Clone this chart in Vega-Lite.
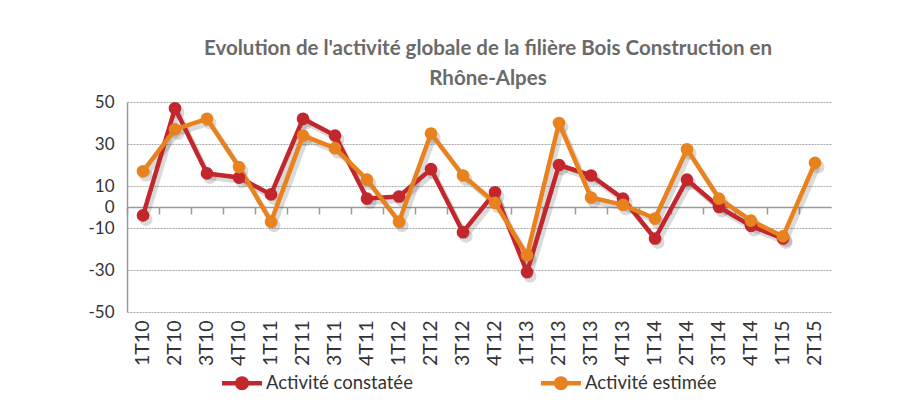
{
  "$schema": "https://vega.github.io/schema/vega-lite/v6.json",
  "width": 704,
  "height": 210,
  "autosize": {"type": "none"},
  "padding": {"left": 127, "top": 102, "right": 78, "bottom": 89},
  "background": "white",
  "title": {
    "text": ["Evolution de l'activité globale de la filière Bois Construction en", "Rhône-Alpes"],
    "font": "Lato",
    "fontSize": 20.5,
    "fontWeight": "bold",
    "color": "#6a6a6a",
    "lineHeight": 30,
    "offset": 4,
    "dx": 9
  },
  "config": {
    "view": {"stroke": null},
    "font": "Lato"
  },
  "data": {
    "values": [
      {"q": "1T10", "s": "Activité constatée", "v": -4},
      {"q": "2T10", "s": "Activité constatée", "v": 47},
      {"q": "3T10", "s": "Activité constatée", "v": 16},
      {"q": "4T10", "s": "Activité constatée", "v": 14},
      {"q": "1T11", "s": "Activité constatée", "v": 6},
      {"q": "2T11", "s": "Activité constatée", "v": 42},
      {"q": "3T11", "s": "Activité constatée", "v": 34},
      {"q": "4T11", "s": "Activité constatée", "v": 4},
      {"q": "1T12", "s": "Activité constatée", "v": 5},
      {"q": "2T12", "s": "Activité constatée", "v": 18},
      {"q": "3T12", "s": "Activité constatée", "v": -12},
      {"q": "4T12", "s": "Activité constatée", "v": 7},
      {"q": "1T13", "s": "Activité constatée", "v": -31},
      {"q": "2T13", "s": "Activité constatée", "v": 20},
      {"q": "3T13", "s": "Activité constatée", "v": 15},
      {"q": "4T13", "s": "Activité constatée", "v": 4},
      {"q": "1T14", "s": "Activité constatée", "v": -15},
      {"q": "2T14", "s": "Activité constatée", "v": 13},
      {"q": "3T14", "s": "Activité constatée", "v": 0},
      {"q": "4T14", "s": "Activité constatée", "v": -9},
      {"q": "1T15", "s": "Activité constatée", "v": -15},
      {"q": "1T10", "s": "Activité estimée", "v": 17},
      {"q": "2T10", "s": "Activité estimée", "v": 37},
      {"q": "3T10", "s": "Activité estimée", "v": 42},
      {"q": "4T10", "s": "Activité estimée", "v": 19},
      {"q": "1T11", "s": "Activité estimée", "v": -7},
      {"q": "2T11", "s": "Activité estimée", "v": 34},
      {"q": "3T11", "s": "Activité estimée", "v": 28},
      {"q": "4T11", "s": "Activité estimée", "v": 13},
      {"q": "1T12", "s": "Activité estimée", "v": -7},
      {"q": "2T12", "s": "Activité estimée", "v": 35},
      {"q": "3T12", "s": "Activité estimée", "v": 15},
      {"q": "4T12", "s": "Activité estimée", "v": 2},
      {"q": "1T13", "s": "Activité estimée", "v": -23},
      {"q": "2T13", "s": "Activité estimée", "v": 40},
      {"q": "3T13", "s": "Activité estimée", "v": 4.5},
      {"q": "4T13", "s": "Activité estimée", "v": 1},
      {"q": "1T14", "s": "Activité estimée", "v": -5.5},
      {"q": "2T14", "s": "Activité estimée", "v": 27.5},
      {"q": "3T14", "s": "Activité estimée", "v": 4},
      {"q": "4T14", "s": "Activité estimée", "v": -6.5},
      {"q": "1T15", "s": "Activité estimée", "v": -14},
      {"q": "2T15", "s": "Activité estimée", "v": 21}
    ]
  },
  "encoding": {
    "y": {
      "field": "v",
      "type": "quantitative",
      "scale": {"domain": [-50, 50], "nice": false, "zero": false},
      "axis": {
        "title": null,
        "values": [-50, -30, -10, 0, 10, 30, 50],
        "labelExpr": "toString(datum.value)",
        "labelOverlap": false,
        "grid": true,
        "gridColor": "#a8a8a8",
        "gridDash": [2, 1],
        "gridWidth": 1,
        "domain": true,
        "domainColor": "#9a9a9a",
        "domainWidth": 1.5,
        "ticks": false,
        "labelPadding": 13,
        "labelFontSize": 17,
        "labelColor": "#333333",
        "labelFont": "Lato"
      }
    }
  },
  "resolve": {"axis": {"x": "independent"}},
  "layer": [
    {
      "mark": {"type": "point", "opacity": 0},
      "encoding": {
        "x": {
          "field": "q",
          "type": "ordinal",
          "sort": null,
          "scale": {"type": "band", "paddingInner": 0, "paddingOuter": 0},
          "axis": {
            "orient": "bottom",
            "title": null,
            "domain": false,
            "ticks": false,
            "grid": false,
            "labelAngle": 270,
            "labelAlign": "right",
            "labelBaseline": "middle",
            "labelPadding": 8,
            "labelFontSize": 19.5,
            "labelColor": "#333333",
            "labelFont": "Lato"
          }
        }
      }
    },
    {
      "mark": {"type": "point", "opacity": 0},
      "encoding": {
        "x": {
          "field": "q",
          "type": "ordinal",
          "sort": null,
          "axis": {
            "orient": "bottom",
            "offset": -105,
            "title": null,
            "labels": false,
            "domain": true,
            "domainColor": "#9a9a9a",
            "domainWidth": 1.5,
            "ticks": true,
            "bandPosition": 0,
            "tickSize": 7,
            "tickColor": "#9a9a9a",
            "tickWidth": 1.5,
            "grid": false
          }
        }
      }
    },
    {
      "mark": {"type": "line", "strokeWidth": 5, "strokeJoin": "round", "color": "#444444", "opacity": 0.2, "xOffset": 3, "yOffset": 4},
      "encoding": {
        "x": {"field": "q", "type": "ordinal", "sort": null, "axis": null},
        "detail": {"field": "s"}
      }
    },
    {
      "mark": {"type": "point", "filled": true, "size": 170, "color": "#444444", "opacity": 0.2, "xOffset": 3, "yOffset": 4},
      "encoding": {
        "x": {"field": "q", "type": "ordinal", "sort": null, "axis": null}
      }
    },
    {
      "mark": {"type": "line", "strokeWidth": 4.5, "strokeJoin": "round"},
      "encoding": {
        "x": {"field": "q", "type": "ordinal", "sort": null, "axis": null},
        "color": {
          "field": "s",
          "type": "nominal",
          "scale": {"domain": ["Activité constatée", "Activité estimée"], "range": ["#c1272d", "#e8821e"]},
          "legend": {
            "title": null,
            "orient": "none",
            "legendX": 95,
            "legendY": 261,
            "direction": "horizontal",
            "columnPadding": 128,
            "symbolType": "M-1,-0.11H1V0.11H-1Z M0.35,0 A0.35,0.35 0 1,1 -0.35,0 A0.35,0.35 0 1,1 0.35,0 Z",
            "symbolSize": 1600,
            "symbolStrokeWidth": 0,
            "labelFontSize": 18.5,
            "labelColor": "#333333",
            "labelFont": "Lato",
            "labelOffset": 4
          }
        }
      }
    },
    {
      "mark": {"type": "point", "filled": true, "size": 160, "opacity": 1},
      "encoding": {
        "x": {"field": "q", "type": "ordinal", "sort": null, "axis": null},
        "color": {"field": "s", "type": "nominal", "legend": null}
      }
    }
  ]
}
